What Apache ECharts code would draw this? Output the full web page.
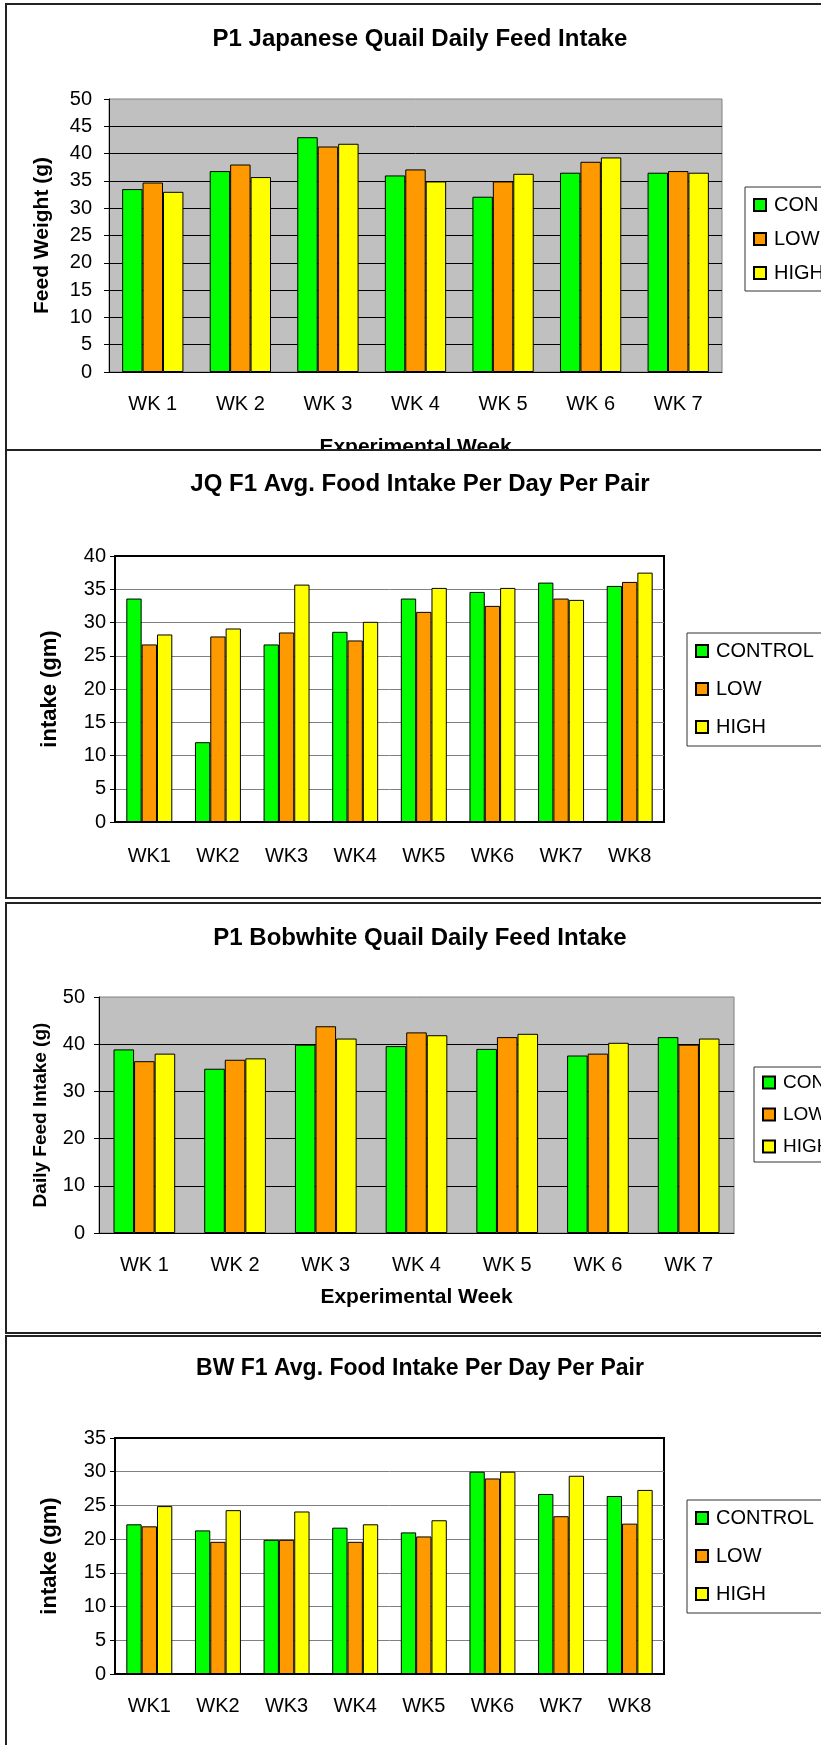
<!DOCTYPE html>
<html>
<head>
<meta charset="utf-8">
<script src="https://cdn.jsdelivr.net/npm/echarts@6/dist/echarts.min.js"></script>
<style>
    html, body {
        margin: 0;
        padding: 0;
        width: 821px;
        height: 1745px;
        overflow: hidden;
        background: #fff;
    }
    .panel {
        position: absolute;
        left: 5px;
        width: 840px;
        box-sizing: border-box;
        border: 2px solid #222;
        background: #fff;
        overflow: hidden;
    }
    .chart {
        width: 826px;
        height: 100%;
    }
</style>
</head>
<body>
<div class="panel" style="top:3px;height:470px"><div class="chart" id="chart-p1"></div></div>
<div class="panel" style="top:449px;height:450px"><div class="chart" id="chart-jq"></div></div>
<div class="panel" style="top:902px;height:432px"><div class="chart" id="chart-bw"></div></div>
<div class="panel" style="top:1335px;height:430px"><div class="chart" id="chart-bwf1"></div></div>

<script>

// legend names (the P1 charts only show the short form before the page edge)
const shortNames = ['CON', 'LOW', 'HIGH'];
const longNames = ['CONTROL', 'LOW', 'HIGH'];
const seriesColors = ['#00FF00', '#FF9900', '#FFFF00'];

// P1 Japanese quail
const jqWeeks = ['WK 1', 'WK 2', 'WK 3', 'WK 4', 'WK 5', 'WK 6', 'WK 7'];
const jqCon = [33.5, 36.8, 43.0, 36.0, 32.1, 36.5, 36.5];
const jqLow = [34.7, 38.0, 41.3, 37.1, 34.9, 38.5, 36.8];
const jqHigh = [33.0, 35.7, 41.8, 34.9, 36.3, 39.3, 36.5];

// JQ F1
const jqF1Weeks = ['WK1', 'WK2', 'WK3', 'WK4', 'WK5', 'WK6', 'WK7', 'WK8'];
const jqF1Con = [33.6, 12.0, 26.7, 28.6, 33.6, 34.6, 36.0, 35.5];
const jqF1Low = [26.7, 27.9, 28.5, 27.3, 31.6, 32.5, 33.6, 36.1];
const jqF1High = [28.2, 29.1, 35.7, 30.1, 35.2, 35.2, 33.4, 37.5];

// P1 Bobwhite quail
const bwWeeks = ['WK 1', 'WK 2', 'WK 3', 'WK 4', 'WK 5', 'WK 6', 'WK 7'];
const bwCon = [38.9, 34.8, 39.9, 39.6, 39.0, 37.6, 41.5];
const bwLow = [36.4, 36.7, 43.8, 42.5, 41.5, 38.0, 39.9];
const bwHigh = [38.0, 37.0, 41.2, 41.9, 42.2, 40.3, 41.2];

// BW F1
const bwF1Weeks = ['WK1', 'WK2', 'WK3', 'WK4', 'WK5', 'WK6', 'WK7', 'WK8'];
const bwF1Con = [22.2, 21.3, 19.9, 21.7, 21.0, 30.0, 26.7, 26.4];
const bwF1Low = [21.9, 19.6, 19.9, 19.6, 20.4, 29.0, 23.4, 22.3];
const bwF1High = [24.9, 24.3, 24.1, 22.2, 22.8, 30.0, 29.4, 27.3];

const font = "'Liberation Sans', Arial, sans-serif";


const renderPanel = (id, cfg) => {

    const chart = echarts.init(document.getElementById(id));

    chart.setOption({
        animation: false,
        textStyle: {
            fontFamily: font,
        },
        title: {
            text: cfg.title,
            left: 'center',
            top: cfg.titleTop,
            textStyle: {
                color: '#000',
                fontWeight: 'bold',
                fontSize: cfg.titleSize,
                fontFamily: font,
            },
        },
        legend: {
            data: cfg.names,
            orient: 'vertical',
            left: cfg.legend.left,
            top: cfg.legend.top,
            icon: 'rect',
            itemWidth: 12,
            itemHeight: 12,
            itemGap: cfg.legend.gap,
            padding: cfg.legend.padding,
            borderColor: '#333',
            borderWidth: 1,
            backgroundColor: '#fff',
            textStyle: {
                color: '#000',
                fontSize: cfg.legend.fontSize,
                lineHeight: cfg.legend.fontSize,
                fontFamily: font,
                padding: [0, 0, 0, 3],
            },
        },
        grid: {
            left: cfg.grid[0],
            top: cfg.grid[1],
            width: cfg.grid[2],
            height: cfg.grid[3],
            show: true,
            backgroundColor: cfg.gray ? '#C0C0C0' : '#fff',
            borderColor: cfg.gray ? '#808080' : '#000',
            borderWidth: cfg.gray ? 1 : 2,
        },
        xAxis: {
            type: 'category',
            data: cfg.weeks,
            name: cfg.xName,
            nameLocation: 'middle',
            nameGap: cfg.xNameGap,
            nameTextStyle: {
                color: '#000',
                fontWeight: 'bold',
                fontSize: 21,
                fontFamily: font,
            },
            axisLine: {
                lineStyle: { color: '#000', width: cfg.gray ? 1 : 2 },
            },
            axisTick: {
                length: 7,
                lineStyle: { color: '#000' },
            },
            axisLabel: {
                color: '#000',
                fontSize: 20,
                margin: cfg.xLabelMargin,
            },
        },
        yAxis: {
            type: 'value',
            min: 0,
            max: cfg.yMax,
            interval: cfg.yStep,
            name: cfg.yName,
            nameLocation: 'middle',
            nameGap: cfg.yNameGap,
            nameTextStyle: {
                color: '#000',
                fontWeight: 'bold',
                fontSize: cfg.yNameSize,
                fontFamily: font,
            },
            axisLine: {
                show: true,
                lineStyle: { color: '#000', width: cfg.gray ? 1 : 2 },
            },
            axisTick: {
                show: true,
                length: 5,
                lineStyle: { color: '#000' },
            },
            axisLabel: {
                color: '#000',
                fontSize: 20,
                margin: cfg.yLabelMargin,
            },
            splitLine: {
                showMaxLine: false,
                lineStyle: { color: cfg.gray ? '#000' : '#808080', width: 1 },
            },
        },
        series: cfg.values.map((data, i) => {
            return {
                name: cfg.names[i],
                type: 'bar',
                data: data,
                barGap: '0%',
                barCategoryGap: cfg.catGap,
                itemStyle: {
                    color: seriesColors[i],
                    borderColor: '#000',
                    borderWidth: 1,
                },
            };
        }),
    });
};


renderPanel('chart-p1', {
    title: 'P1 Japanese Quail Daily Feed Intake',
    titleTop: 17,
    titleSize: 24,
    names: shortNames,
    weeks: jqWeeks,
    values: [jqCon, jqLow, jqHigh],
    gray: true,
    grid: [102, 94, 613, 273],
    yMax: 50,
    yStep: 5,
    yName: 'Feed Weight (g)',
    yNameSize: 21,
    yNameGap: 56,
    yLabelMargin: 17,
    xName: 'Experimental Week',
    xNameGap: 65,
    xLabelMargin: 22,
    catGap: '30%',
    legend: { left: 738, top: 182, gap: 14, fontSize: 20, padding: [8, 8, 8, 8] },
});

renderPanel('chart-jq', {
    title: 'JQ F1 Avg. Food Intake Per Day Per Pair',
    titleTop: 16,
    titleSize: 24,
    names: longNames,
    weeks: jqF1Weeks,
    values: [jqF1Con, jqF1Low, jqF1High],
    gray: false,
    grid: [108, 105, 549, 266],
    yMax: 40,
    yStep: 5,
    yName: 'intake (gm)',
    yNameSize: 22,
    yNameGap: 54,
    yLabelMargin: 9,
    xName: '',
    xNameGap: 60,
    xLabelMargin: 24,
    catGap: '33%',
    legend: { left: 680, top: 182, gap: 18, fontSize: 20, padding: [8, 8, 9, 8] },
});

renderPanel('chart-bw', {
    title: 'P1 Bobwhite Quail Daily Feed Intake',
    titleTop: 17,
    titleSize: 24,
    names: shortNames,
    weeks: bwWeeks,
    values: [bwCon, bwLow, bwHigh],
    gray: true,
    grid: [92, 93, 635, 236],
    yMax: 50,
    yStep: 10,
    yName: 'Daily Feed Intake (g)',
    yNameSize: 19,
    yNameGap: 49,
    yLabelMargin: 14,
    xName: 'Experimental Week',
    xNameGap: 54,
    xLabelMargin: 22,
    catGap: '32%',
    legend: { left: 747, top: 163, gap: 13, fontSize: 19, padding: [6, 8, 6, 8] },
});

renderPanel('chart-bwf1', {
    title: 'BW F1 Avg. Food Intake Per Day Per Pair',
    titleTop: 15,
    titleSize: 23,
    names: longNames,
    weeks: bwF1Weeks,
    values: [bwF1Con, bwF1Low, bwF1High],
    gray: false,
    grid: [108, 101, 549, 236],
    yMax: 35,
    yStep: 5,
    yName: 'intake (gm)',
    yNameSize: 22,
    yNameGap: 54,
    yLabelMargin: 9,
    xName: '',
    xNameGap: 60,
    xLabelMargin: 22,
    catGap: '33%',
    legend: { left: 680, top: 163, gap: 18, fontSize: 20, padding: [8, 8, 9, 8] },
});

</script>
</body>
</html>
